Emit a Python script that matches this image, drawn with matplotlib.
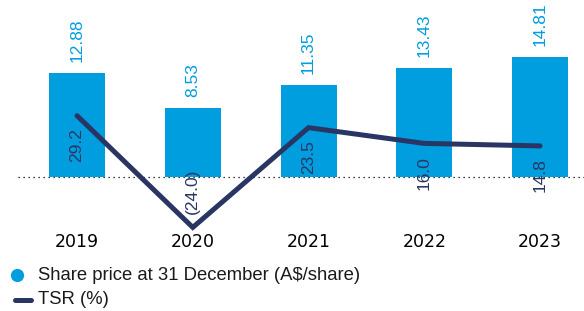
import numpy as np
import matplotlib.pyplot as plt
from matplotlib.lines import Line2D

years = ['2019', '2020', '2021', '2022', '2023']
share_price = [12.88, 8.53, 11.35, 13.43, 14.81]
tsr = [29.2, -24.0, 23.5, 16.0, 14.8]

blue = '#009ddf'
navy = '#293663'
W, H = 584, 311

fig = plt.figure(figsize=(W / 100, H / 100), dpi=100)
ax = fig.add_axes([18 / W, 1 - 230 / H, (W - 18) / W, 230 / H])
x = np.arange(len(years))

ax.bar(x, share_price, width=0.484, color=blue, zorder=2)
ax.set_xlim(-0.51, 4.38)
ax.set_ylim(-53 / 8.08, 177 / 8.08)
ax.axhline(0, color='black', linestyle=(0, (1, 3)), linewidth=0.9, zorder=1)

narrow = ['Liberation Sans Narrow', 'Liberation Sans', 'DejaVu Sans']
for xi, v in zip(x, share_price):
    ax.annotate('%.2f' % v, (xi, v), xytext=(0, 8), textcoords='offset points',
                rotation=90, ha='center', va='bottom', color=blue,
                fontsize=12.5, family=narrow)

ax2 = ax.twinx()
ax2.set_ylim(-53 / 2.1, 177 / 2.1)
ax2.plot(x, tsr, color=navy, linewidth=3.6, solid_capstyle='round',
         solid_joinstyle='miter', zorder=3, clip_on=False)
for xi, v in zip(x, tsr):
    if v >= 0:
        lab, off, va = '%.1f' % v, -9, 'top'
    else:
        lab, off, va = '(%.1f)' % abs(v), 10, 'bottom'
    ax2.annotate(lab, (xi, v), xytext=(0, off), textcoords='offset points',
                 rotation=90, ha='center', va=va, color=navy,
                 fontsize=12.5, family=narrow)

for a in (ax, ax2):
    for s in a.spines.values():
        s.set_visible(False)
    a.set_yticks([])
ax.set_xticks(x, years)
ax.tick_params(axis='x', length=0, pad=2, labelsize=12.5, labelcolor='black')

# legend
fig.add_artist(Line2D([17 / W], [1 - 275 / H], marker='o', markersize=8.5,
                      color=blue, linestyle='none'))
fig.text(38 / W, 1 - 275 / H, 'Share price at 31 December (A$/share)',
         va='center', ha='left', fontsize=13.3, family='Liberation Sans', color='#1a1a1a')
fig.add_artist(Line2D([15 / W, 31 / W], [1 - 300 / H, 1 - 300 / H], color=navy,
                      linewidth=3.6, solid_capstyle='round'))
fig.text(38 / W, 1 - 300 / H, 'TSR (%)', va='center', ha='left', fontsize=13.3,
         family='Liberation Sans', color='#1a1a1a')

fig.savefig('out.png', dpi=100)
